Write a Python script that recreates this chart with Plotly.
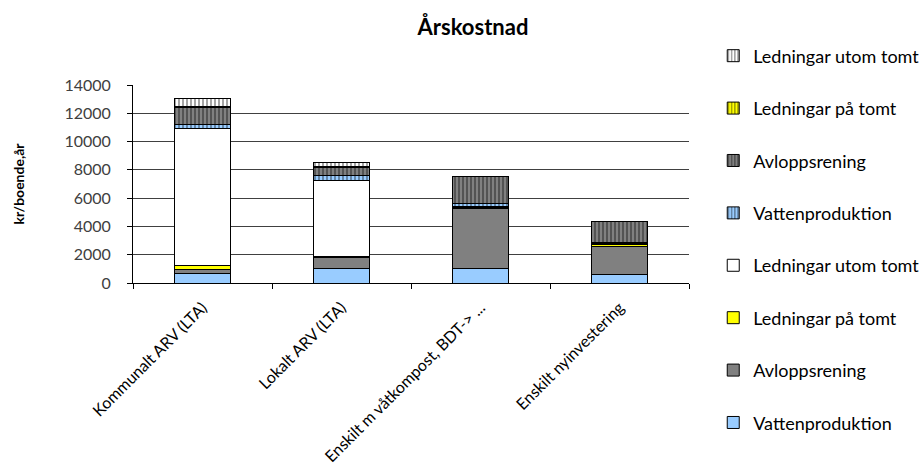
import plotly.graph_objects as go

categories = [
    "Kommunalt ARV (LTA)",
    "Lokalt ARV (LTA)",
    "Enskilt m våtkompost, BDT-> ...",
    "Enskilt nyinvestering",
]

# Running costs (solid fill), kr/boende,år
vatten = [700, 1040, 1050, 600]
avlopp = [250, 780, 4220, 1970]
led_pa_tomt = [320, 80, 60, 150]
led_utom_tomt = [9670, 5380, 60, 50]

# Capital costs (striped fill), kr/boende,år
vatten_inv = [250, 300, 250, 100]
avlopp_inv = [1250, 600, 1880, 1460]
led_pa_tomt_inv = [50, 50, 0, 0]
led_utom_tomt_inv = [590, 280, 30, 0]

y_ticks = [0, 2000, 4000, 6000, 8000, 10000, 12000, 14000]

FONT = "Lato"
BLUE = "#99CCFF"
GRAY = "#808080"
YELLOW = "#FFFF00"
WHITE = "#FFFFFF"

series = [
    ("Vattenproduktion", vatten, BLUE, False),
    ("Avloppsrening", avlopp, GRAY, False),
    ("Ledningar på tomt", led_pa_tomt, YELLOW, False),
    ("Ledningar utom tomt", led_utom_tomt, WHITE, False),
    ("Vattenproduktion", vatten_inv, BLUE, True),
    ("Avloppsrening", avlopp_inv, GRAY, True),
    ("Ledningar på tomt", led_pa_tomt_inv, YELLOW, True),
    ("Ledningar utom tomt", led_utom_tomt_inv, WHITE, True),
]

fig = go.Figure()
n = len(series)
for i, (name, vals, color, striped) in enumerate(series):
    marker = dict(color=color, line=dict(color="black", width=1))
    if striped:
        marker["pattern"] = dict(shape="|", fillmode="overlay", fgcolor="black",
                                 size=4, solidity=0.35)
    fig.add_trace(go.Bar(
        x=categories, y=vals, name=name, marker=marker,
        legendgroup=f"g{i}", legendrank=n - i,
    ))

fig.update_layout(
    width=920, height=476,
    barmode="stack", bargap=0.6,
    plot_bgcolor="white", paper_bgcolor="white",
    margin=dict(l=133, r=231, t=85, b=193, autoexpand=False),
    font=dict(family=FONT, size=14, color="black"),
    title=dict(text="<b>Årskostnad</b>", x=473 / 920, xanchor="center",
               y=1 - 27 / 476, yanchor="middle", font=dict(size=22)),
    legend=dict(x=1.0436, y=1.24, xanchor="left", yanchor="top",
                traceorder="grouped", tracegroupgap=26, maxheight=1.0,
                font=dict(size=18), bgcolor="rgba(0,0,0,0)"),
    showlegend=True,
)

fig.update_xaxes(
    tickangle=-45, showline=True, linecolor="black", linewidth=1,
    ticks="outside", ticklen=5, tickcolor="black",
    tickson="boundaries", tickfont=dict(size=16, color="black"),
    ticklabelstandoff=8, automargin=False,
)
fig.update_yaxes(
    range=[0, 14000], tickvals=y_ticks, ticktext=[str(v) for v in y_ticks],
    showline=True, linecolor="black",
    linewidth=1, ticks="outside", ticklen=5, tickcolor="black",
    showgrid=True, gridcolor="#404040", gridwidth=1,
    tickfont=dict(size=16, color="#404040"), ticklabelstandoff=13,
    title=dict(text="<b>kr/boende,år</b>", font=dict(size=14), standoff=36),
    zeroline=False, automargin=False,
)

fig.write_html("out.html")
